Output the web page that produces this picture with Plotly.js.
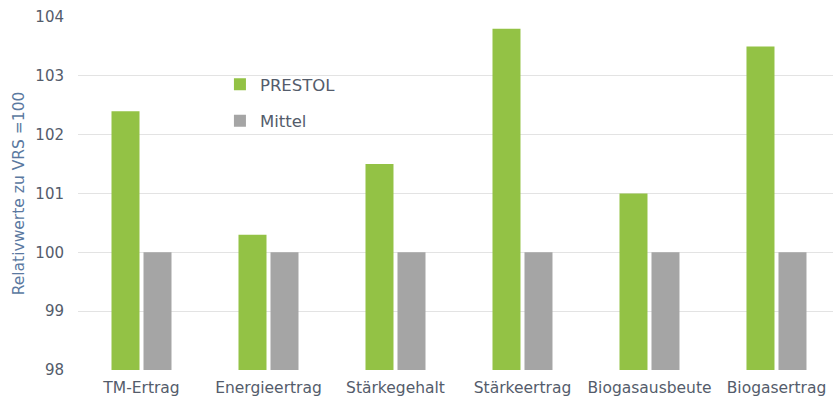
<!DOCTYPE html>
<html>
<head>
<meta charset="utf-8">
<script src="https://cdn.plot.ly/plotly-3.0.1.min.js"></script>
<style>html,body{margin:0;padding:0;background:#fff;}#chart{width:833px;height:403px;}</style>
</head>
<body>
<div id="chart"></div>
<script>
var categories = ["TM-Ertrag", "Energieertrag", "Stärkegehalt", "Stärkeertrag", "Biogasausbeute", "Biogasertrag"];
var prestol = [102.4, 100.3, 101.5, 103.8, 101.0, 103.5];
var mittel = [100, 100, 100, 100, 100, 100];
var yTicks = [98, 99, 100, 101, 102, 103, 104];

var textColor = "#545c6b";
var titleColor = "#5a78a0";
var fontFam = "DejaVu Sans, Liberation Sans, Arial, sans-serif";
var data = [
  {type: "bar", name: "PRESTOL", x: categories, y: prestol, marker: {color: "#93c245"}, legendgroup: "a", hoverinfo: "y"},
  {type: "bar", name: "Mittel", x: categories, y: mittel, marker: {color: "#a5a5a5"}, legendgroup: "b", hoverinfo: "y"}
];
var layout = {
  width: 833, height: 403,
  margin: {l: 78, r: 0, t: 17, b: 33},
  paper_bgcolor: "#fff", plot_bgcolor: "#fff",
  font: {family: fontFam, size: 15, color: textColor},
  barmode: "group", bargap: 0.496, bargroupgap: 0.125,
  showlegend: true,
  legend: {x: 0.188, xanchor: "left", y: 0.858, yanchor: "top", bgcolor: "rgba(0,0,0,0)",
           traceorder: "grouped", tracegroupgap: 12, font: {family: fontFam, size: 16.5, color: textColor}},
  xaxis: {type: "category", range: [-0.5, 5.445], showgrid: false, zeroline: false,
          showline: false, ticks: "", ticklabelstandoff: 6,
          tickfont: {family: fontFam, size: 15.5, color: textColor}, fixedrange: true},
  yaxis: {range: [98, 104], tickvals: yTicks, ticktext: yTicks.map(String),
          showgrid: true, gridcolor: "#e3e3e3", gridwidth: 1, zeroline: false, showline: false,
          ticks: "", ticklabelstandoff: 13, tickfont: {family: fontFam, size: 15, color: textColor},
          title: {text: "Relativwerte zu VRS =100", font: {family: fontFam, size: 15.5, color: titleColor}, standoff: 6},
          fixedrange: true}
};
Plotly.newPlot("chart", data, layout, {displayModeBar: false, staticPlot: true});
</script>
</body>
</html>
